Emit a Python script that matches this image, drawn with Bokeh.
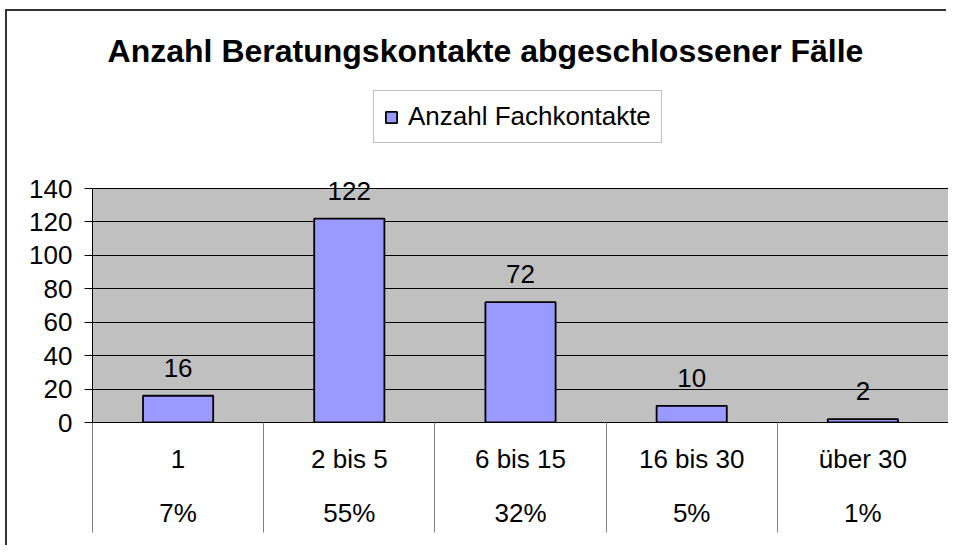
import numpy as np
from bokeh.plotting import figure
from bokeh.models import (Range1d, FixedTicker, LinearAxis, ColumnDataSource, Grid,
                          LabelSet, Label, Legend, LegendItem, BoxAnnotation)
from bokeh.core.properties import value
from bokeh.embed import file_html
from bokeh.resources import INLINE

title_text = "Anzahl Beratungskontakte abgeschlossener Fälle"
series_name = "Anzahl Fachkontakte"
categories = ["1", "2 bis 5", "6 bis 15", "16 bis 30", "über 30"]
values = [16, 122, 72, 10, 2]
percentages = ["7%", "55%", "32%", "5%", "1%"]
y_ticks = [0, 20, 40, 60, 80, 100, 120, 140]
y_max = 140

FONT = "Liberation Sans"
FS = "26px"

# layout (pixels)
W, H = 941, 536
MB_LEFT, MB_RIGHT, MB_BOTTOM = 85, 0, 125
FRAME_H = H - MB_BOTTOM            # frame reaches the top of the canvas
PLOT_AREA_H = 234                  # grey plot area height in px
y_end = y_max * FRAME_H / PLOT_AREA_H

centers = list(np.arange(len(categories)) + 0.5)
bounds = list(np.arange(len(categories) + 1).astype(float))

src = ColumnDataSource(dict(x=centers, top=values, lab=[str(v) for v in values]))

p = figure(width=W, height=H, output_backend="svg", toolbar_location=None,
           title=None,
           x_range=Range1d(0, len(categories)), y_range=Range1d(0, y_end),
           min_border_left=MB_LEFT, min_border_right=MB_RIGHT, min_border_top=0,
           min_border_bottom=MB_BOTTOM, x_axis_type=None, y_axis_type=None)
# outer chart border (only its left and top edges are inside the picture)
p.styles = {"margin-left": "7px", "margin-top": "11px",
            "box-shadow": "-2px -2px 0px 0px #333333"}

p.background_fill_color = "white"
p.border_fill_color = "white"
p.outline_line_color = None

# grey plot area
area = BoxAnnotation(left=0, right=len(categories), bottom=0, top=y_max,
                     fill_color="#C0C0C0", fill_alpha=1,
                     line_color="#808080", line_width=1, level="image")
p.add_layout(area)

# horizontal gridlines
grid = Grid(dimension=1, ticker=FixedTicker(ticks=y_ticks),
            grid_line_color="#000000", grid_line_width=1)
p.add_layout(grid)

# y axis
yax = LinearAxis(ticker=FixedTicker(ticks=y_ticks), bounds=(0, y_max))
yax.axis_line_color = "black"
yax.major_tick_line_color = "black"
yax.major_tick_out = 8
yax.major_tick_in = 0
yax.minor_tick_line_color = None
yax.major_label_text_font = FONT
yax.major_label_text_font_size = FS
yax.major_label_text_color = "black"
yax.major_label_standoff = 12
p.add_layout(yax, "left")

# x axis with category labels and separators
xax = LinearAxis(ticker=FixedTicker(ticks=centers, minor_ticks=bounds))
xax.major_label_overrides = {c: lab for c, lab in zip(centers, categories)}
xax.axis_line_color = "black"
xax.major_tick_line_color = None
xax.major_tick_out = 0
xax.major_tick_in = 0
xax.minor_tick_line_color = "#808080"
xax.minor_tick_out = 110
xax.minor_tick_in = 0
xax.major_label_text_font = FONT
xax.major_label_text_font_size = FS
xax.major_label_text_color = "black"
xax.major_label_standoff = -89
p.add_layout(xax, "below")

pax = LinearAxis(ticker=FixedTicker(ticks=centers))
pax.major_label_overrides = {c: lab for c, lab in zip(centers, percentages)}
pax.axis_line_color = None
pax.major_tick_line_color = None
pax.minor_tick_line_color = None
pax.major_label_text_font = FONT
pax.major_label_text_font_size = FS
pax.major_label_text_color = "black"
pax.major_label_standoff = 15
p.add_layout(pax, "below")

bars = p.vbar(x="x", top="top", width=0.41, bottom=0, source=src,
              fill_color="#9999FF", line_color="black", line_width=1.8)

labels = LabelSet(x="x", y="top", text="lab", source=src, y_offset=28,
                  text_align="center", text_baseline="middle",
                  text_font=value(FONT), text_font_size=value(FS),
                  text_color="black")
p.add_layout(labels)

# chart title (screen units relative to the frame's bottom-left)
title = Label(x=393, y=FRAME_H - 39, x_units="screen", y_units="screen",
              text=title_text, text_align="center", text_baseline="middle",
              text_font=FONT, text_font_style="bold", text_font_size="32px",
              text_color="black")
p.add_layout(title)

legend = Legend(items=[LegendItem(label=series_name, renderers=[bars])],
                location=(281, FRAME_H - 132), orientation="vertical")
legend.border_line_color = "#808080"
legend.border_line_width = 1
legend.background_fill_color = "white"
legend.background_fill_alpha = 1
legend.label_text_font = FONT
legend.label_text_font_size = FS
legend.label_text_color = "black"
legend.glyph_width = 14
legend.glyph_height = 14
legend.label_standoff = 10
legend.padding = 10
legend.margin = 0
legend.spacing = 0
p.add_layout(legend, "center")

open("out.html", "w").write(file_html(p, INLINE))
